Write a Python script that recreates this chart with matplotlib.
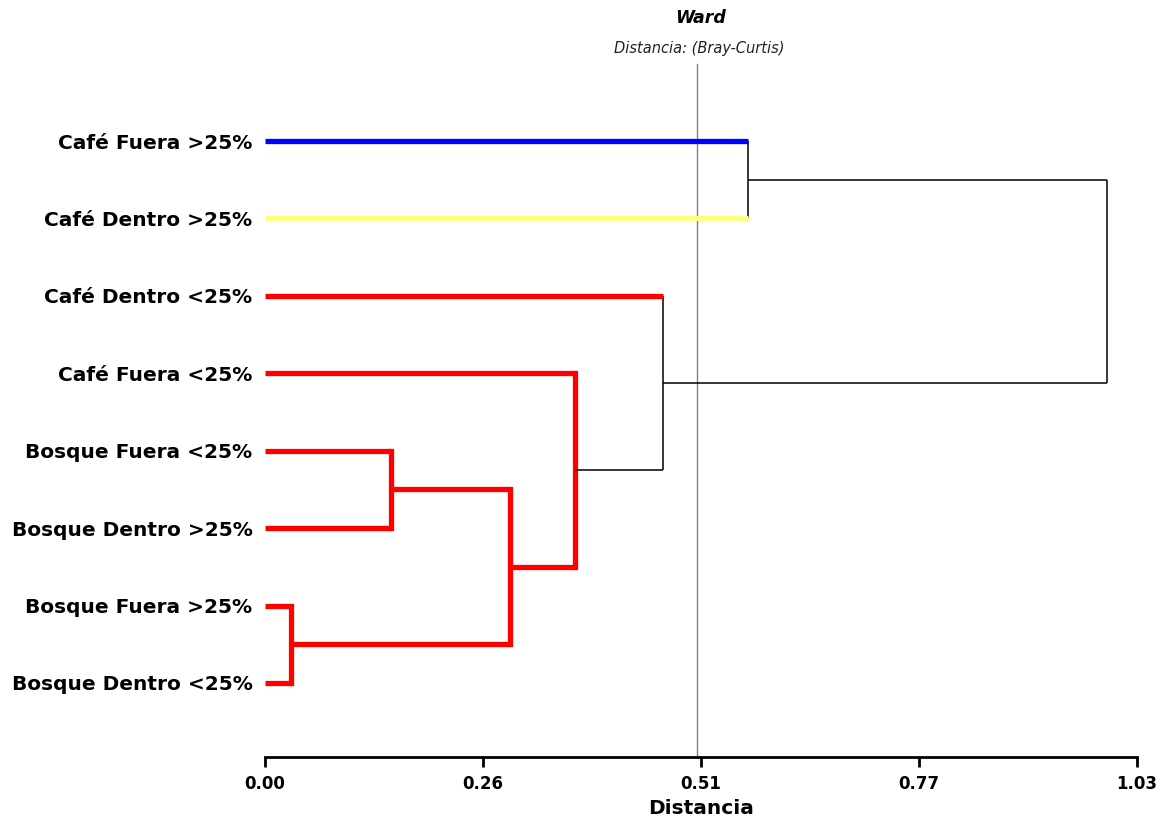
import matplotlib
matplotlib.use("Agg")
import matplotlib.pyplot as plt
import numpy as np

# ---- data ----
labels = ["Café Fuera >25%", "Café Dentro >25%", "Café Dentro <25%", "Café Fuera <25%",
          "Bosque Fuera <25%", "Bosque Dentro >25%", "Bosque Fuera >25%", "Bosque Dentro <25%"]
leaf_colors = ["#0000FF", "#FFFF80", "#FF0000", "#FF0000", "#FF0000", "#FF0000", "#FF0000", "#FF0000"]
# merges: (child_a, child_b, height); leaves 0..7, clusters 8..
merge_a = [6, 4, 9, 3, 11, 0, 12]
merge_b = [7, 5, 8, 10, 2, 1, 13]
merge_h = [0.0307, 0.149, 0.289, 0.366, 0.470, 0.5705, 0.9946]
merge_colors = ["#FF0000", "#FF0000", "#FF0000", "#FF0000", "black", "black", "black"]
tick_vals = [0.0, 0.2575, 0.515, 0.7725, 1.03]
tick_labels = ["0.00", "0.26", "0.51", "0.77", "1.03"]
cut_value = 0.51

fig = plt.figure(figsize=(11.61, 8.21), dpi=100)
ax = fig.add_axes([265/1161, 1-757/821, (1137-265)/1161, (757-100)/821])

n = len(labels)
ypos = {i: n-1-i for i in range(n)}
xpos = {i: 0.0 for i in range(n)}
THICK, THIN = 3.8, 1.1

for k, (a, b, h, c) in enumerate(zip(merge_a, merge_b, merge_h, merge_colors)):
    lw = THICK if c != "black" else THIN
    for ch in (a, b):
        if ch < n:
            ax.plot([0, h], [ypos[ch], ypos[ch]], color=leaf_colors[ch], lw=THICK,
                    solid_capstyle="butt", zorder=3)
        else:
            ax.plot([xpos[ch], h], [ypos[ch], ypos[ch]], color=c, lw=lw,
                    solid_capstyle="butt", zorder=2)
    ax.plot([h, h], [ypos[a], ypos[b]], color=c, lw=lw,
            solid_capstyle="projecting" if c != "black" else "butt", zorder=2)
    node = n + k
    ypos[node] = (ypos[a] + ypos[b]) / 2
    xpos[node] = h

ylo, yhi = -0.956, 7.53
ax.set_xlim(0, 1.03)
ax.set_ylim(ylo, yhi)

# cut line extending above the axes
ax.plot([cut_value, cut_value], [ylo, yhi + (100-64)/77.43], color="#808080", lw=1.0,
        clip_on=False, zorder=1)

for s in ["top", "right", "left"]:
    ax.spines[s].set_visible(False)
ax.spines["bottom"].set_linewidth(2)
ax.set_xticks(tick_vals)
ax.set_xticklabels(tick_labels, fontsize=12, fontweight="bold")
ax.tick_params(axis="x", direction="out", length=7, width=2, pad=6)
ax.set_yticks([ypos[i] for i in range(n)])
ax.set_yticklabels(labels, fontsize=14.5, fontweight="bold")
ax.tick_params(axis="y", length=0, pad=9)
ax.set_xlabel("Distancia", fontsize=14.5, fontweight="bold", labelpad=4)

fig.text(701/1161, 1-18/821, "Ward", ha="center", va="center", fontsize=12.5,
         fontweight="bold", style="italic")
fig.text(699/1161, 1-48/821, "Distancia: (Bray-Curtis)", ha="center", va="center",
         fontsize=10.5, style="italic", color="#222222")

fig.savefig("out.png", dpi=100)
